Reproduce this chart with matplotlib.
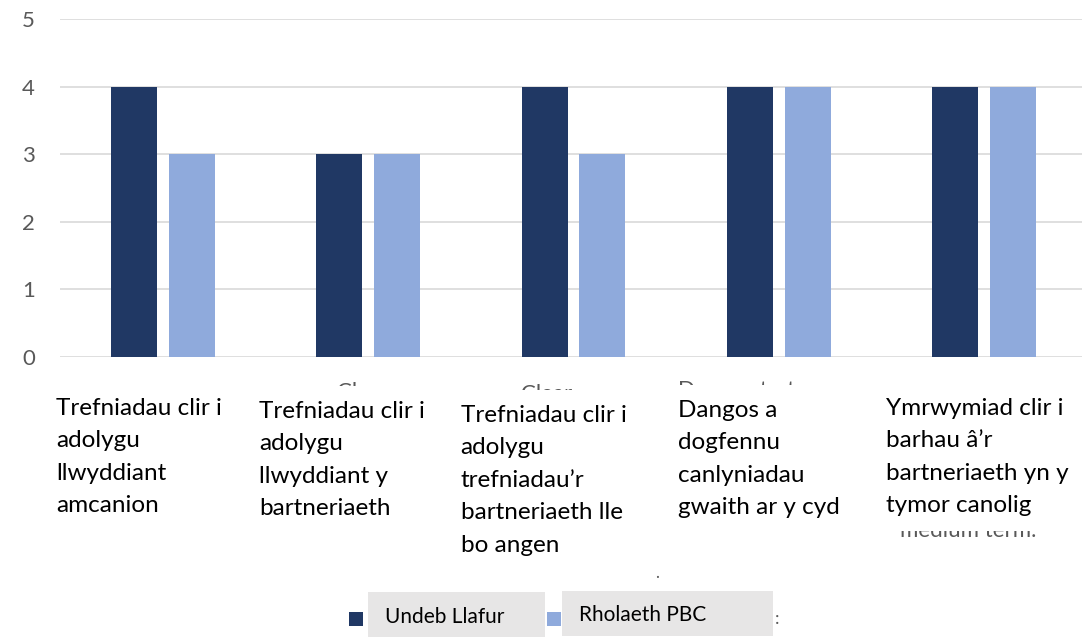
import numpy as np
import matplotlib
matplotlib.use("Agg")
import matplotlib.pyplot as plt
from matplotlib.patches import Rectangle
from matplotlib.transforms import blended_transform_factory

plt.rcParams['font.family'] = ['Lato', 'DejaVu Sans']

categories = [
    "Trefniadau clir i\nadolygu\nllwyddiant\namcanion",
    "Trefniadau clir i\nadolygu\nllwyddiant y\nbartneriaeth",
    "Trefniadau clir i\nadolygu\ntrefniadau\u2019r\nbartneriaeth lle\nbo angen",
    "Dangos a\ndogfennu\ncanlyniadau\ngwaith ar y cyd",
    "Ymrwymiad clir i\nbarhau \u00e2\u2019r\nbartneriaeth yn y\ntymor canolig",
]
undeb_llafur = [4, 3, 4, 4, 4]
rholaeth_pbc = [3, 3, 3, 4, 4]
series_names = ["Undeb Llafur", "Rholaeth PBC"]

dark = "#203864"
light = "#8FAADC"
W, H = 1082, 637

fig = plt.figure(figsize=(W / 100, H / 100), dpi=100)
ax = fig.add_axes([60 / W, 280 / H, 1027 / W, 338 / H])

x = np.arange(len(categories))
bw = 0.224
b1 = ax.bar(x - 0.141, undeb_llafur, bw, color=dark, zorder=3)
b2 = ax.bar(x + 0.141, rholaeth_pbc, bw, color=light, zorder=3)

ax.set_xlim(-0.5, len(categories) - 0.5)
ax.set_ylim(0, 5)
ax.set_yticks(range(6))
ax.yaxis.grid(True, color="#D9D9D9", lw=1.2, zorder=0)
ax.set_xticks([])
for s in ax.spines.values():
    s.set_visible(False)
ax.tick_params(axis="y", length=0, pad=18, labelsize=16, labelcolor="#595959")

# category labels (left-aligned boxes under each group)
tr = blended_transform_factory(ax.transData, fig.transFigure)
dx = [-0.52, -0.53, -0.55, -0.49, -0.48]
tops = [398, 401, 405, 400, 398]

# remnants of the hidden english labels
grey = "#595959"
fig.text(2 - 0.13, 1 - 384 / H, "Clear", transform=tr, color=grey,
         fontsize=16, va="top", ha="center", zorder=1)
fig.text(1 - 0.1, 1 - 382 / H, "Cl", transform=tr, color=grey,
         fontsize=16, va="top", ha="center", zorder=1)
fig.text(3 - 0.49, 1 - 380 / H, "Demonstrat", transform=tr, color=grey,
         fontsize=16, va="top", ha="left", zorder=1)
fig.text(4 - 0.41, 1 - 537 / H, "medium term.", transform=tr, color=grey,
         fontsize=16, va="baseline", ha="left", zorder=1)
fig.text(655 / W, 1 - 578 / H, ".", color=grey, fontsize=12, va="baseline")

for i, lab in enumerate(categories):
    fig.text(i + dx[i], 1 - tops[i] / H, lab, transform=tr, fontsize=17.5,
             va="top", ha="left", linespacing=1.67, color="black", zorder=2,
             bbox=dict(facecolor="white", edgecolor="none", pad=11))

# legend
boxes = [(368, 592, 177, 45), (562, 591, 211, 45)]
for (bx, by, bwid, bh) in boxes:
    fig.patches.append(Rectangle((bx / W, 1 - (by + bh) / H), bwid / W, bh / H,
                                 transform=fig.transFigure, facecolor="#E7E6E6",
                                 edgecolor="none", zorder=0))
sq = [(349, 612), (547, 612)]
for (sx, sy), c in zip(sq, [dark, light]):
    fig.patches.append(Rectangle((sx / W, 1 - (sy + 14) / H), 14 / W, 14 / H,
                                 transform=fig.transFigure, facecolor=c,
                                 edgecolor="none", zorder=1))
fig.text(385 / W, 1 - 617 / H, series_names[0], fontsize=15, va="center", ha="left")
fig.text(579 / W, 1 - 615 / H, series_names[1], fontsize=15, va="center", ha="left")
fig.text(775 / W, 1 - 619 / H, ":", fontsize=13, va="center", ha="left", color=grey)

fig.savefig("out.png", dpi=100)
